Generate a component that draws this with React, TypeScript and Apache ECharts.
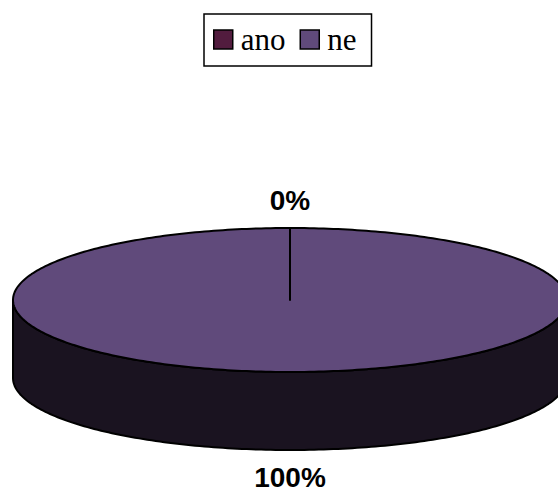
import React, { useEffect, useRef } from "react";
import * as echarts from "echarts";

// Answer categories and their shares
const categories = ["ano", "ne"];
const values = [0, 100];
const topColors = ["#521c3e", "#604a7b"];
const sideColors = ["#1d1019", "#1a1320"];

// 3D pie geometry (px)
const CX = 290;
const CY = 300;
const RX = 277;
const RY = 72;
const DEPTH = 78;
const LABEL_OFFSET = 28;

const rad = (deg: number) => (deg * Math.PI) / 180;

// angle measured clockwise from 12 o'clock
function pt(a: number, yOff = 0): number[] {
  return [CX + RX * Math.sin(rad(a)), CY - RY * Math.cos(rad(a)) + yOff];
}

function arc(a0: number, a1: number, yOff = 0): number[][] {
  const pts: number[][] = [];
  const steps = Math.max(2, Math.ceil(Math.abs(a1 - a0)));
  for (let i = 0; i <= steps; i++) {
    pts.push(pt(a0 + ((a1 - a0) * i) / steps, yOff));
  }
  return pts;
}

function sliceRange(idx: number): [number, number] {
  const total = values.reduce((s, v) => s + v, 0);
  let before = 0;
  for (let i = 0; i < idx; i++) before += values[i];
  const start = (before / total) * 360;
  const end = start + (values[idx] / total) * 360;
  return [start, end];
}

function makeRenderItem(idx: number) {
  return () => {
    const total = values.reduce((s, v) => s + v, 0);
    const [start, end] = sliceRange(idx);
    const children: any[] = [];
    const stroke = { stroke: "#000", lineWidth: 2, lineJoin: "round" };

    // visible side wall: front half of the disc (90..270 deg)
    const s0 = Math.max(start, 90);
    const s1 = Math.min(end, 270);
    if (s1 > s0) {
      const top = arc(s0, s1);
      const bottom = arc(s1, s0, DEPTH);
      children.push({
        type: "polygon",
        shape: { points: top.concat(bottom) },
        style: { fill: sideColors[idx], ...stroke },
      });
    }

    // top face
    if (end > start) {
      children.push({
        type: "polygon",
        shape: { points: [[CX, CY]].concat(arc(start, end)) },
        style: { fill: topColors[idx], ...stroke },
      });
    } else {
      const p = pt(start);
      children.push({
        type: "line",
        shape: { x1: CX, y1: CY, x2: p[0], y2: p[1] },
        style: { stroke: "#000", lineWidth: 2 },
      });
    }

    // percentage label outside the slice at its mid angle
    const mid = (start + end) / 2;
    const c = Math.cos(rad(mid));
    const lx = CX + (RX + LABEL_OFFSET) * Math.sin(rad(mid));
    const ly = CY - (RY + LABEL_OFFSET) * c + (c < 0 ? DEPTH - 1 : 0);
    children.push({
      type: "text",
      z2: 10,
      style: {
        text: Math.round((values[idx] / total) * 100) + "%",
        x: lx,
        y: ly,
        align: "center",
        verticalAlign: "middle",
        fontFamily: "Liberation Sans, Arial, sans-serif",
        fontWeight: "bold",
        fontSize: 28,
        fill: "#000",
      },
    });

    return { type: "group", children };
  };
}

export default function App() {
  const ref = useRef<HTMLDivElement>(null);

  useEffect(() => {
    if (!ref.current) return;
    const chart = echarts.init(ref.current, undefined, { renderer: "svg" });
    chart.setOption({
      animation: false,
      backgroundColor: "#fff",
      legend: {
        data: categories,
        left: 204,
        top: 14,
        orient: "horizontal",
        icon: "rect",
        itemWidth: 19,
        itemHeight: 19,
        itemGap: 14,
        padding: [10, 15, 11, 9],
        borderColor: "#000",
        borderWidth: 1.5,
        itemStyle: { borderColor: "#000", borderWidth: 1.5 },
        textStyle: {
          fontFamily: "Liberation Serif, Times New Roman, serif",
          fontSize: 31,
          color: "#000",
          padding: [0, 0, 0, 3],
        },
        selectedMode: false,
      },
      series: categories.map((name, idx) => ({
        type: "custom",
        name,
        coordinateSystem: "none",
        itemStyle: { color: topColors[idx] },
        renderItem: makeRenderItem(idx),
        data: [[values[idx]]],
        silent: true,
      })),
    });
    return () => chart.dispose();
  }, []);

  return (
    <div
      ref={ref}
      style={{ position: "fixed", left: 0, top: 0, width: 558, height: 493 }}
    />
  );
}
